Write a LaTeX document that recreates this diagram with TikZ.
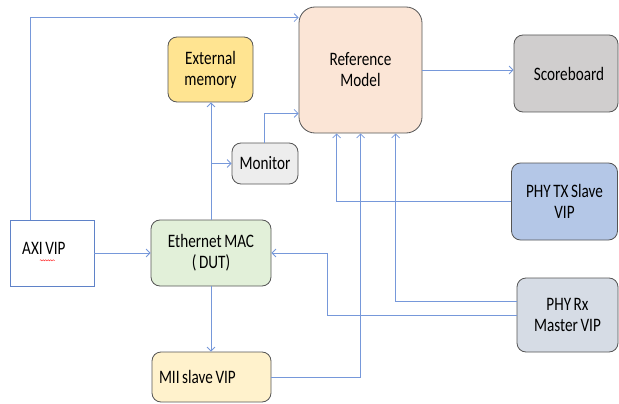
\documentclass[tikz,border=0pt]{standalone}
\usepackage{fontspec}
\setmainfont{Carlito}[FakeStretch=0.8,WordSpace=0.75]
\usetikzlibrary{arrows.meta,decorations.pathmorphing}
\definecolor{wire}{RGB}{118,152,218}
\definecolor{edge}{RGB}{85,85,85}
\definecolor{refcol}{RGB}{251,229,214}
\definecolor{scorecol}{RGB}{208,206,206}
\definecolor{txcol}{RGB}{180,199,231}
\definecolor{rxcol}{RGB}{214,220,229}
\definecolor{memcol}{RGB}{255,228,145}
\definecolor{moncol}{RGB}{237,237,237}
\definecolor{maccol}{RGB}{226,240,217}
\definecolor{miicol}{RGB}{255,242,204}
\definecolor{axicol}{RGB}{95,130,200}
\begin{document}
\begin{tikzpicture}[x=1pt,y=-1pt,
  font=\fontsize{19}{21}\selectfont,
  blk/.style={draw=edge,line width=0.8pt,rounded corners=9pt,align=center,inner sep=0pt},
  conn/.style={draw=wire,line width=0.8pt,-{Straight Barb[length=4pt,width=8pt]}}]
  \useasboundingbox (0,0) rectangle (619,404);
  \node[blk,fill=refcol,rounded corners=16pt,minimum width=123pt,minimum height=126pt] (ref) at (360.5,70) {Reference\\Model};
  \node[blk,fill=scorecol,minimum width=104pt,minimum height=77pt] (score) at (566,73.5) {\hspace{6pt}Scoreboard};
  \node[blk,fill=txcol,minimum width=106pt,minimum height=77pt] (phytx) at (564.5,201.5) {PHY TX Slave\\VIP};
  \node[blk,fill=rxcol,minimum width=101pt,minimum height=74pt] (phyrx) at (567.5,315) {PHY Rx\\Master VIP};
  \node[blk,fill=memcol,minimum width=85pt,minimum height=65pt] (extmem) at (210.5,69.5) {External\\memory};
  \node[blk,fill=moncol,minimum width=66pt,minimum height=41pt] (mon) at (265,163.5) {Monitor};
  \node[blk,fill=maccol,minimum width=120pt,minimum height=66pt] (mac) at (211,253) {Ethernet MAC\\( DUT)};
  \node[blk,fill=miicol,minimum width=119pt,minimum height=50pt,align=flush left,text width=105pt] (mii) at (211.5,377) {MII slave VIP};
  \node[draw=axicol,line width=0.8pt,minimum width=84pt,minimum height=66pt] (axi) at (52,253) {};
  \node[anchor=west,inner sep=0pt] (axitxt) at (22,248) {AXI VIP};
  \draw[red!80,line width=0.5pt,decorate,decoration={snake,amplitude=0.6pt,segment length=2.5pt}] (axitxt.south) ++(-4,6) -- ++(15,0);

  \draw[conn] ([xshift=21pt]axi.north west) |- ([yshift=-11pt]ref.north west);
  \draw[conn] (axi.east) -- (mac.west);
  \draw[conn] (mac.north) -- (mac.north |- extmem.south);
  \draw[conn] (mac.north |- mon.west) -- (mon.west);
  \draw[conn] ([xshift=-1pt]mon.north) |- ([yshift=20pt]ref.south west);
  \draw[conn] (mac.south) -- (mac.south |- mii.north);
  \draw[conn] (mii.east) -| ([xshift=62pt]ref.south west);
  \draw[conn] (phytx.west) -| ([xshift=38pt]ref.south west);
  \draw[conn] ([yshift=14pt]phyrx.west) -| ([xshift=97pt]ref.south west);
  \draw[conn] (phyrx.west) -| ([xshift=56pt]mac.east) -- (mac.east);
  \draw[conn] (ref.east) -- (ref.east -| score.west);
\end{tikzpicture}
\end{document}
